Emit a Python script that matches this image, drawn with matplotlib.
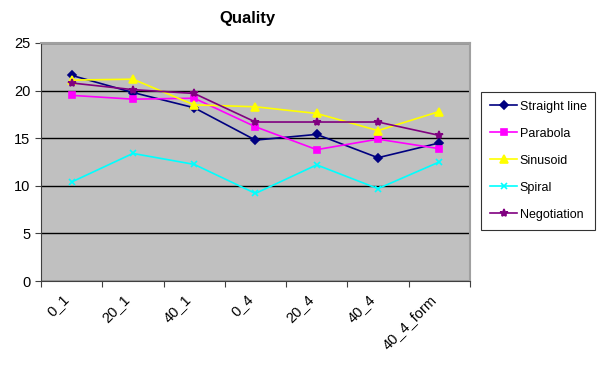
import matplotlib.pyplot as plt
import matplotlib.transforms as mtransforms

plt.rcParams['font.family'] = ['Liberation Sans', 'DejaVu Sans']

# categories and series
categories = ['0_1', '20_1', '40_1', '0_4', '20_4', '40_4', '40_4_form']
straight_line = [21.6, 19.8, 18.2, 14.8, 15.4, 12.95, 14.5]
parabola = [19.5, 19.1, 19.2, 16.2, 13.8, 14.9, 13.9]
sinusoid = [21.1, 21.2, 18.5, 18.3, 17.6, 15.8, 17.8]
spiral = [10.4, 13.4, 12.25, 9.2, 12.2, 9.7, 12.5]
negotiation = [20.8, 20.1, 19.7, 16.7, 16.7, 16.7, 15.3]

series = [
    ('Straight line', straight_line, '#000080', 'D', 4),
    ('Parabola', parabola, '#FF00FF', 's', 5),
    ('Sinusoid', sinusoid, '#FFFF00', '^', 6),
    ('Spiral', spiral, '#00FFFF', 'x', 5),
    ('Negotiation', negotiation, '#800080', '*', 6),
]

fig = plt.figure(figsize=(5.97, 3.70), dpi=100)
ax = fig.add_axes([0.0687, 0.2405, 0.7183, 0.6433])
ax.set_facecolor('#C0C0C0')

x = [i + 0.5 for i in range(len(categories))]
for name, vals, color, marker, ms in series:
    ax.plot(x, vals, color=color, marker=marker, markersize=ms, linewidth=1.2,
            markeredgewidth=1.2, label=name)

ax.set_xlim(0, len(categories))
ax.set_ylim(0, 25)
ax.set_yticks(range(0, 26, 5))
ax.yaxis.grid(True, color='black', linewidth=1.0)
ax.set_axisbelow(True)

ax.set_xticks(range(len(categories) + 1))
ax.set_xticklabels([])
ax.set_xticks(x, minor=True)
ax.set_xticklabels(categories, minor=True, rotation=45, ha='right', va='top',
                   rotation_mode='anchor', fontsize=10.5)
ax.tick_params(axis='x', which='minor', length=0, pad=8)
ax.tick_params(axis='x', which='major', length=4, direction='out', color='#404040')
ax.tick_params(axis='y', length=4, direction='out', color='#404040', labelsize=10.5)

# nudge the slanted category labels to the left of their slots
shift = mtransforms.ScaledTranslation(-0.1, 0, fig.dpi_scale_trans)
for lbl in ax.get_xticklabels(minor=True):
    lbl.set_transform(lbl.get_transform() + shift)

for side in ['top', 'right']:
    ax.spines[side].set_color('#A0A0A0')
    ax.spines[side].set_linewidth(1.5)
for side in ['left', 'bottom']:
    ax.spines[side].set_color('#404040')

fig.text(0.415, 0.951, 'Quality', fontsize=12, fontweight='bold',
         ha='center', va='center')

leg = ax.legend(loc='upper left', frameon=True,
                fancybox=False, edgecolor='black', fontsize=9,
                labelspacing=1.2, handlelength=2.2, handletextpad=0.2,
                borderpad=0.7, borderaxespad=0,
                bbox_to_anchor=(481 / 597, 1 - 92 / 370),
                bbox_transform=fig.transFigure)
leg.get_frame().set_linewidth(0.8)

fig.savefig('out.png', dpi=100)
